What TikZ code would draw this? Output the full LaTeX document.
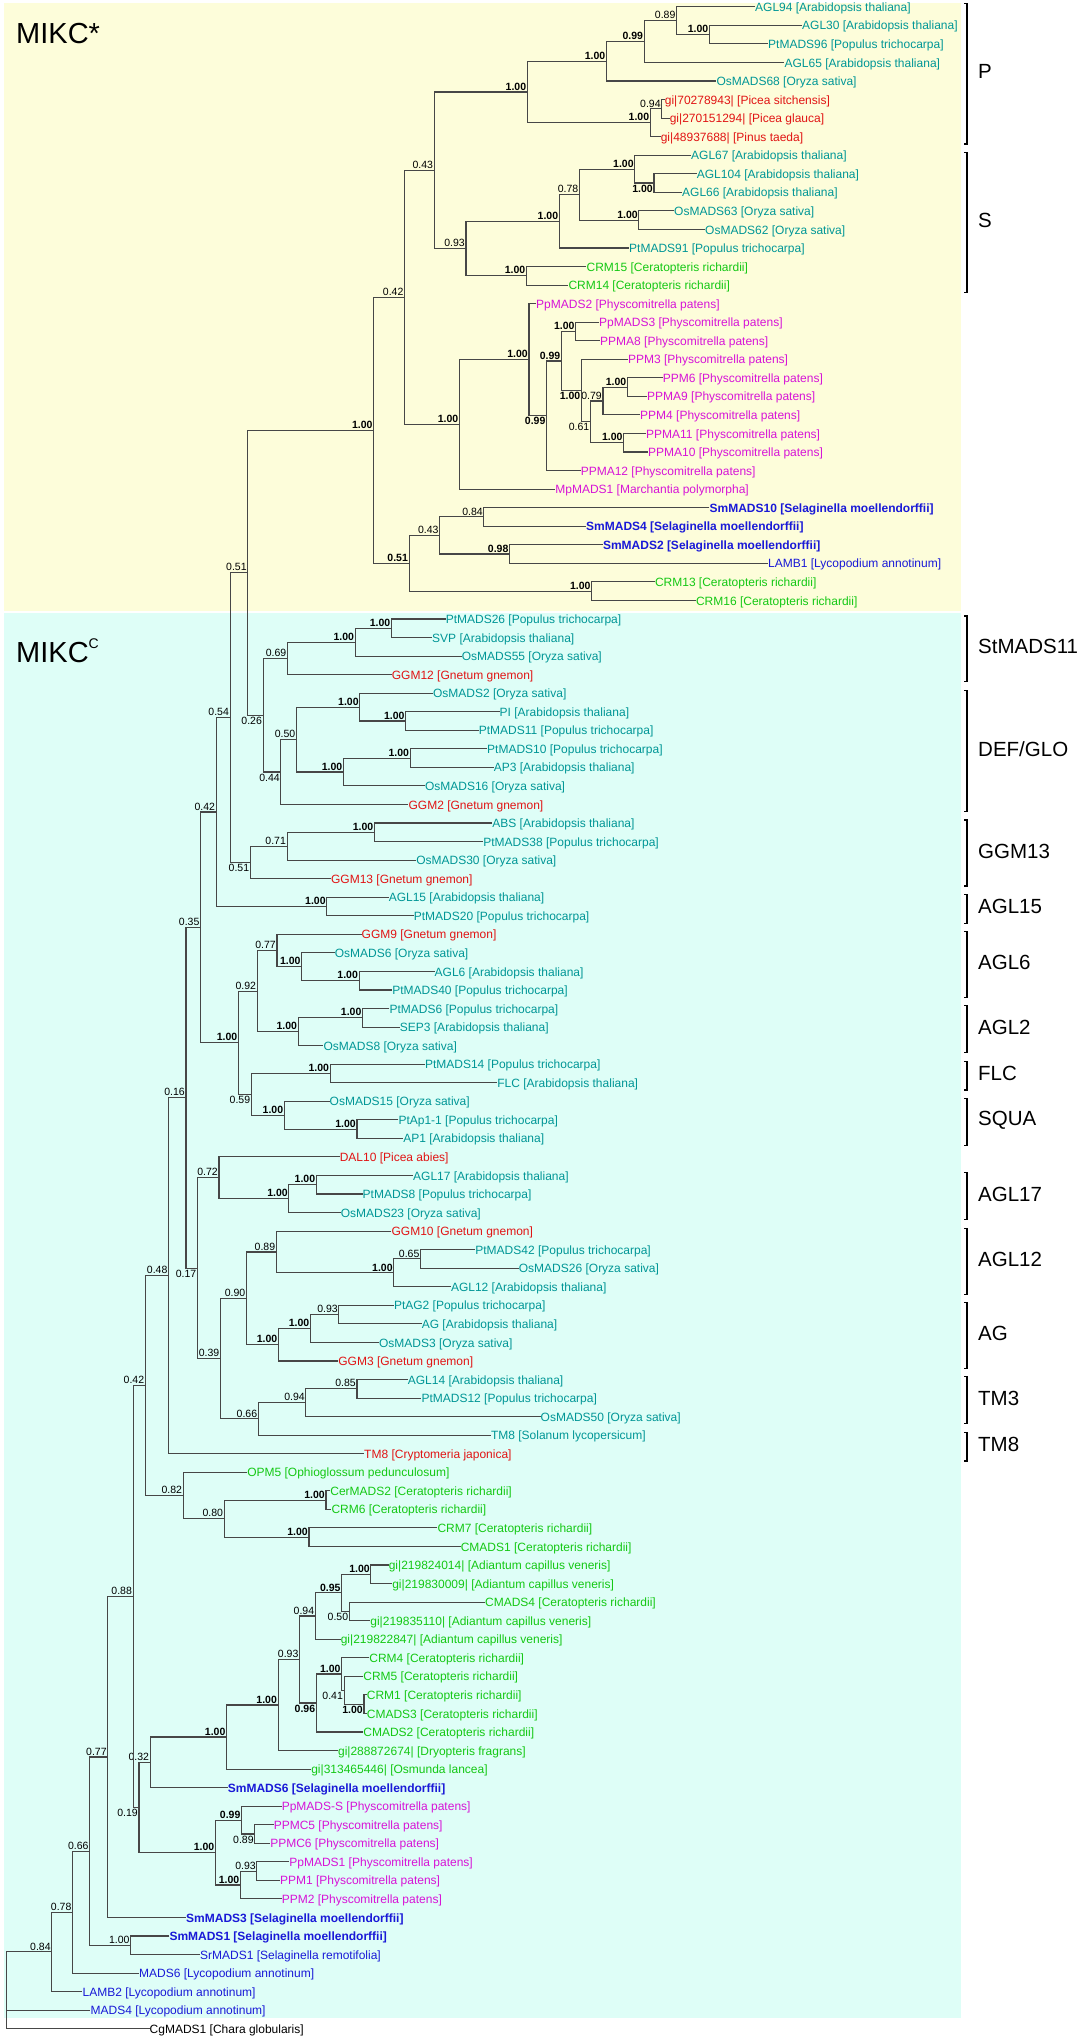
\documentclass[tikz,border=0pt]{standalone}
\usepackage{fontspec}
\setmainfont{Liberation Sans}
\usetikzlibrary{calc}
\definecolor{tealc}{RGB}{0,150,150}
\definecolor{redc}{RGB}{225,20,20}
\definecolor{greenc}{RGB}{20,200,20}
\definecolor{magc}{RGB}{215,20,215}
\definecolor{bluec}{RGB}{25,25,215}
\definecolor{yel}{RGB}{253,253,218}
\definecolor{cya}{RGB}{222,254,247}
\tikzset{
 br/.style={draw=black!72, line width=1.1pt},
 bk/.style={draw=black, line width=1.1pt},
 lt/.style={inner sep=0pt, anchor=west, font=\fontsize{12}{12}\selectfont},
 ang/.style={text=tealc}, gym/.style={text=redc}, fern/.style={text=greenc},
 moss/.style={text=magc}, lyc/.style={text=bluec},
 lycb/.style={text=bluec, font=\fontsize{12}{12}\selectfont\bfseries},
 alga/.style={text=black},
 ua/.style={inner sep=0pt, anchor=south east, xshift=-1pt, yshift=1.5pt, font=\fontsize{10.5}{10.5}\selectfont},
 ub/.style={ua, font=\fontsize{10.5}{10.5}\selectfont\bfseries},
 da/.style={inner sep=0pt, anchor=north east, xshift=-1pt, yshift=-1.5pt, font=\fontsize{10.5}{10.5}\selectfont},
 db/.style={da, font=\fontsize{10.5}{10.5}\selectfont\bfseries},
 cl/.style={inner sep=0pt, anchor=west, font=\fontsize{20.5}{20.5}\selectfont},
 big/.style={inner sep=0pt, anchor=base west, font=\fontsize{29}{29}\selectfont}
}
\newcommand\lf[5]{%
 \coordinate (#1) at (#2,{6.8+18.55*#3});
 \node[lt,#4] (#1t) at ([yshift=-1.5pt]#1) {#5};}
\newcommand\nd[6]{%
 \coordinate (#1m) at ($(#3)!0.5!(#4)$);
 \coordinate (#1x) at (#2,0);
 \coordinate (#1) at (#1x |- #1m);
 \draw[br] (#3) -| (#1) |- (#4);
 \node[#5] (#1s) at (#1) {#6};}
\newcommand\brk[4]{%
 \coordinate (#1a) at (967,{6.8+18.55*#2-3});
 \coordinate (#1b) at (967,{6.8+18.55*#3+7.3});
 \draw[bk] ([xshift=-3pt]#1a) -- (#1a) -- (#1b) -- ([xshift=-3pt]#1b);
 \node[cl] (#1) at ($(#1a)!0.5!(#1b)+(11,-2)$) {#4};}
\begin{document}
\begin{tikzpicture}[x=1pt,y=-1pt]
\useasboundingbox (0,0) rectangle (1083,2040);
\fill[white] (0,0) rectangle (1083,2040);
\fill[yel] (3.5,3.3) rectangle (960.7,610.7);
\fill[cya] (3.5,613.3) rectangle (960.7,2017.7);
\node[big] (mikcs) at (16,43.3) {MIKC*};
\node[big] (mikcc) at (16,662) {MIKC\raisebox{14pt}{\fontsize{14}{14}\selectfont C}};
% leaves
\lf{l0}{755}{0}{ang}{AGL94 [Arabidopsis thaliana]}
\lf{l1}{802}{1}{ang}{AGL30 [Arabidopsis thaliana]}
\lf{l2}{768}{2}{ang}{PtMADS96 [Populus trichocarpa]}
\lf{l3}{784.4}{3}{ang}{AGL65 [Arabidopsis thaliana]}
\lf{l4}{716.3}{4}{ang}{OsMADS68 [Oryza sativa]}
\lf{l5}{664.7}{5}{gym}{gi|70278943| [Picea sitchensis]}
\lf{l6}{669.6}{6}{gym}{gi|270151294| [Picea glauca]}
\lf{l7}{660.6}{7}{gym}{gi|48937688| [Pinus taeda]}
\lf{l8}{691}{8}{ang}{AGL67 [Arabidopsis thaliana]}
\lf{l9}{696.7}{9}{ang}{AGL104 [Arabidopsis thaliana]}
\lf{l10}{682}{10}{ang}{AGL66 [Arabidopsis thaliana]}
\lf{l11}{674}{11}{ang}{OsMADS63 [Oryza sativa]}
\lf{l12}{705}{12}{ang}{OsMADS62 [Oryza sativa]}
\lf{l13}{629}{13}{ang}{PtMADS91 [Populus trichocarpa]}
\lf{l14}{586.4}{14}{fern}{CRM15 [Ceratopteris richardii]}
\lf{l15}{568.3}{15}{fern}{CRM14 [Ceratopteris richardii]}
\lf{l16}{536}{16}{moss}{PpMADS2 [Physcomitrella patens]}
\lf{l17}{599}{17}{moss}{PpMADS3 [Physcomitrella patens]}
\lf{l18}{600}{18}{moss}{PPMA8 [Physcomitrella patens]}
\lf{l19}{627.8}{19}{moss}{PPM3 [Physcomitrella patens]}
\lf{l20}{662.6}{20}{moss}{PPM6 [Physcomitrella patens]}
\lf{l21}{647}{21}{moss}{PPMA9 [Physcomitrella patens]}
\lf{l22}{640}{22}{moss}{PPM4 [Physcomitrella patens]}
\lf{l23}{646}{23}{moss}{PPMA11 [Physcomitrella patens]}
\lf{l24}{648}{24}{moss}{PPMA10 [Physcomitrella patens]}
\lf{l25}{580.6}{25}{moss}{PPMA12 [Physcomitrella patens]}
\lf{l26}{555.2}{26}{moss}{MpMADS1 [Marchantia polymorpha]}
\lf{l27}{709.4}{27}{lycb}{SmMADS10 [Selaginella moellendorffii]}
\lf{l28}{586}{28}{lycb}{SmMADS4 [Selaginella moellendorffii]}
\lf{l29}{602.8}{29}{lycb}{SmMADS2 [Selaginella moellendorffii]}
\lf{l30}{768}{30}{lyc}{LAMB1 [Lycopodium annotinum]}
\lf{l31}{654.8}{31}{fern}{CRM13 [Ceratopteris richardii]}
\lf{l32}{695.8}{32}{fern}{CRM16 [Ceratopteris richardii]}
\lf{l33}{445.6}{33}{ang}{PtMADS26 [Populus trichocarpa]}
\lf{l34}{432}{34}{ang}{SVP [Arabidopsis thaliana]}
\lf{l35}{461.6}{35}{ang}{OsMADS55 [Oryza sativa]}
\lf{l36}{391.7}{36}{gym}{GGM12 [Gnetum gnemon]}
\lf{l37}{432.8}{37}{ang}{OsMADS2 [Oryza sativa]}
\lf{l38}{499.5}{38}{ang}{PI [Arabidopsis thaliana]}
\lf{l39}{478.7}{39}{ang}{PtMADS11 [Populus trichocarpa]}
\lf{l40}{487}{40}{ang}{PtMADS10 [Populus trichocarpa]}
\lf{l41}{493.6}{41}{ang}{AP3 [Arabidopsis thaliana]}
\lf{l42}{424.8}{42}{ang}{OsMADS16 [Oryza sativa]}
\lf{l43}{408.4}{43}{gym}{GGM2 [Gnetum gnemon]}
\lf{l44}{492.2}{44}{ang}{ABS [Arabidopsis thaliana]}
\lf{l45}{483.2}{45}{ang}{PtMADS38 [Populus trichocarpa]}
\lf{l46}{416.1}{46}{ang}{OsMADS30 [Oryza sativa]}
\lf{l47}{330.9}{47}{gym}{GGM13 [Gnetum gnemon]}
\lf{l48}{388.6}{48}{ang}{AGL15 [Arabidopsis thaliana]}
\lf{l49}{413.7}{49}{ang}{PtMADS20 [Populus trichocarpa]}
\lf{l50}{361.5}{50}{gym}{GGM9 [Gnetum gnemon]}
\lf{l51}{334.7}{51}{ang}{OsMADS6 [Oryza sativa]}
\lf{l52}{434.5}{52}{ang}{AGL6 [Arabidopsis thaliana]}
\lf{l53}{392.1}{53}{ang}{PtMADS40 [Populus trichocarpa]}
\lf{l54}{389.3}{54}{ang}{PtMADS6 [Populus trichocarpa]}
\lf{l55}{399.7}{55}{ang}{SEP3 [Arabidopsis thaliana]}
\lf{l56}{323.3}{56}{ang}{OsMADS8 [Oryza sativa]}
\lf{l57}{424.8}{57}{ang}{PtMADS14 [Populus trichocarpa]}
\lf{l58}{497.1}{58}{ang}{FLC [Arabidopsis thaliana]}
\lf{l59}{329.5}{59}{ang}{OsMADS15 [Oryza sativa]}
\lf{l60}{398.3}{60}{ang}{PtAp1-1 [Populus trichocarpa]}
\lf{l61}{403.2}{61}{ang}{AP1 [Arabidopsis thaliana]}
\lf{l62}{339.6}{62}{gym}{DAL10 [Picea abies]}
\lf{l63}{413}{63}{ang}{AGL17 [Arabidopsis thaliana]}
\lf{l64}{362.5}{64}{ang}{PtMADS8 [Populus trichocarpa]}
\lf{l65}{340.6}{65}{ang}{OsMADS23 [Oryza sativa]}
\lf{l66}{391.4}{66}{gym}{GGM10 [Gnetum gnemon]}
\lf{l67}{475.2}{67}{ang}{PtMADS42 [Populus trichocarpa]}
\lf{l68}{518.7}{68}{ang}{OsMADS26 [Oryza sativa]}
\lf{l69}{450.8}{69}{ang}{AGL12 [Arabidopsis thaliana]}
\lf{l70}{393.8}{70}{ang}{PtAG2 [Populus trichocarpa]}
\lf{l71}{421.6}{71}{ang}{AG [Arabidopsis thaliana]}
\lf{l72}{378.9}{72}{ang}{OsMADS3 [Oryza sativa]}
\lf{l73}{338.2}{73}{gym}{GGM3 [Gnetum gnemon]}
\lf{l74}{407.7}{74}{ang}{AGL14 [Arabidopsis thaliana]}
\lf{l75}{421.3}{75}{ang}{PtMADS12 [Populus trichocarpa]}
\lf{l76}{540.5}{76}{ang}{OsMADS50 [Oryza sativa]}
\lf{l77}{490.8}{77}{ang}{TM8 [Solanum lycopersicum]}
\lf{l78}{364}{78}{gym}{TM8 [Cryptomeria japonica]}
\lf{l79}{247.1}{79}{fern}{OPM5 [Ophioglossum pedunculosum]}
\lf{l80}{330.2}{80}{fern}{CerMADS2 [Ceratopteris richardii]}
\lf{l81}{331.3}{81}{fern}{CRM6 [Ceratopteris richardii]}
\lf{l82}{437.3}{82}{fern}{CRM7 [Ceratopteris richardii]}
\lf{l83}{460.6}{83}{fern}{CMADS1 [Ceratopteris richardii]}
\lf{l84}{388.6}{84}{fern}{gi|219824014| [Adiantum capillus veneris]}
\lf{l85}{392.1}{85}{fern}{gi|219830009| [Adiantum capillus veneris]}
\lf{l86}{484.9}{86}{fern}{CMADS4 [Ceratopteris richardii]}
\lf{l87}{370.2}{87}{fern}{gi|219835110| [Adiantum capillus veneris]}
\lf{l88}{340.6}{88}{fern}{gi|219822847| [Adiantum capillus veneris]}
\lf{l89}{369.2}{89}{fern}{CRM4 [Ceratopteris richardii]}
\lf{l90}{363.2}{90}{fern}{CRM5 [Ceratopteris richardii]}
\lf{l91}{366.7}{91}{fern}{CRM1 [Ceratopteris richardii]}
\lf{l92}{366.7}{92}{fern}{CMADS3 [Ceratopteris richardii]}
\lf{l93}{363.2}{93}{fern}{CMADS2 [Ceratopteris richardii]}
\lf{l94}{337.9}{94}{fern}{gi|288872674| [Dryopteris fragrans]}
\lf{l95}{311.1}{95}{fern}{gi|313465446| [Osmunda lancea]}
\lf{l96}{227.7}{96}{lycb}{SmMADS6 [Selaginella moellendorffii]}
\lf{l97}{281.6}{97}{moss}{PpMADS-S [Physcomitrella patens]}
\lf{l98}{273.6}{98}{moss}{PPMC5 [Physcomitrella patens]}
\lf{l99}{270.1}{99}{moss}{PPMC6 [Physcomitrella patens]}
\lf{l100}{289.2}{100}{moss}{PpMADS1 [Physcomitrella patens]}
\lf{l101}{279.8}{101}{moss}{PPM1 [Physcomitrella patens]}
\lf{l102}{281.6}{102}{moss}{PPM2 [Physcomitrella patens]}
\lf{l103}{186}{103}{lycb}{SmMADS3 [Selaginella moellendorffii]}
\lf{l104}{169.3}{104}{lycb}{SmMADS1 [Selaginella moellendorffii]}
\lf{l105}{199.9}{105}{lyc}{SrMADS1 [Selaginella remotifolia]}
\lf{l106}{139}{106}{lyc}{MADS6 [Lycopodium annotinum]}
\lf{l107}{82.4}{107}{lyc}{LAMB2 [Lycopodium annotinum]}
\lf{l108}{90.4}{108}{lyc}{MADS4 [Lycopodium annotinum]}
\lf{l109}{149.5}{109}{alga}{CgMADS1 [Chara globularis]}
% MIKC* : P and S
\nd{na100}{709.4}{l1}{l2}{ub}{1.00}
\nd{n089}{676.6}{l0}{na100}{ua}{0.89}
\nd{n099}{644.2}{n089}{l3}{ub}{0.99}
\nd{nb100}{606.5}{n099}{l4}{ub}{1.00}
\nd{n094}{661.8}{l5}{l6}{ua}{0.94}
\nd{ng100}{650.3}{n094}{l7}{ub}{1.00}
\nd{nP}{527.3}{nb100}{ng100}{ub}{1.00}
\nd{nc100}{654}{l9}{l10}{db}{1.00}
\nd{nd100}{634.8}{l8}{nc100}{ub}{1.00}
\nd{ne100}{638.9}{l11}{l12}{ub}{1.00}
\nd{n078}{579.4}{nd100}{ne100}{ua}{0.78}
\nd{nf100}{559.3}{n078}{l13}{ub}{1.00}
\nd{nh100}{526.5}{l14}{l15}{ub}{1.00}
\nd{n093}{466}{nf100}{nh100}{ua}{0.93}
\nd{n043}{434.2}{nP}{n093}{ua}{0.43}
% mosses
\nd{nD}{575.7}{l17}{l18}{ub}{1.00}
\nd{nG}{627.4}{l20}{l21}{ub}{1.00}
\nd{nH}{603}{nG}{l22}{ua}{0.79}
\nd{nI}{623.7}{l23}{l24}{ub}{1.00}
\nd{nF}{590.5}{nH}{nI}{da}{0.61}
\nd{nE}{581.5}{l19}{nF}{db}{1.00}
\nd{nC}{561.4}{nD}{nE}{ub}{0.99}
\nd{nB}{546.6}{nC}{l25}{db}{0.99}
\nd{nA}{529}{l16}{nB}{ub}{1.00}
\nd{nM}{459.5}{nA}{l26}{ub}{1.00}
\nd{n042}{404.6}{n043}{nM}{ua}{0.42}
\nd{n084}{483.9}{l27}{l28}{ua}{0.84}
\nd{n098}{509.6}{l29}{l30}{ub}{0.98}
\nd{n043b}{439.7}{n084}{n098}{ua}{0.43}
\nd{ni100}{591.7}{l31}{l32}{ub}{1.00}
\nd{n051}{409.1}{n043b}{ni100}{ub}{0.51}
\nd{nStar}{373.7}{n042}{n051}{ub}{1.00}
% MIKCc
\nd{nj100}{391.4}{l33}{l34}{ub}{1.00}
\nd{nk100}{355.2}{nj100}{l35}{ub}{1.00}
\nd{n069}{287.5}{nk100}{l36}{ua}{0.69}
\nd{nn100}{405.7}{l38}{l39}{ub}{1.00}
\nd{nl100}{359.8}{l37}{nn100}{ub}{1.00}
\nd{no100}{410.2}{l40}{l41}{ub}{1.00}
\nd{nm100}{343.4}{no100}{l42}{ub}{1.00}
\nd{n050}{296.5}{nl100}{nm100}{ua}{0.50}
\nd{n044}{280.9}{n050}{l43}{da}{0.44}
\nd{n026}{263.1}{n069}{n044}{da}{0.26}
\nd{nN051}{247.8}{nStar}{n026}{ua}{0.51}
\nd{np100}{374.4}{l44}{l45}{ub}{1.00}
\nd{n071}{287.1}{np100}{l46}{ua}{0.71}
\nd{n051b}{250.3}{n071}{l47}{da}{0.51}
\nd{n054}{230.1}{nN051}{n051b}{ua}{0.54}
\nd{nq100}{326.8}{l48}{l49}{ub}{1.00}
\nd{n042b}{216.2}{n054}{nq100}{ua}{0.42}
\nd{nu100}{359.1}{l52}{l53}{ub}{1.00}
\nd{nt100}{301.7}{l51}{nu100}{ub}{1.00}
\nd{n077}{277}{l50}{nt100}{ua}{0.77}
\nd{nv100}{362.6}{l54}{l55}{ub}{1.00}
\nd{ns100}{298.2}{nv100}{l56}{ub}{1.00}
\nd{n092}{257.2}{n077}{ns100}{ua}{0.92}
\nd{nw100}{330.2}{l57}{l58}{ub}{1.00}
\nd{ny100}{357}{l60}{l61}{ub}{1.00}
\nd{nx100}{284.3}{l59}{ny100}{ub}{1.00}
\nd{n059}{251.3}{nw100}{nx100}{da}{0.59}
\nd{nr100}{238.5}{n092}{n059}{ub}{1.00}
\nd{n035}{200.6}{n042b}{nr100}{ua}{0.35}
\nd{naa100}{316.3}{l63}{l64}{ub}{1.00}
\nd{nz100}{288.9}{naa100}{l65}{ub}{1.00}
\nd{n072}{219}{l62}{nz100}{ua}{0.72}
\nd{n065}{420.6}{l67}{l68}{ua}{0.65}
\nd{ncc100}{393.8}{n065}{l69}{ub}{1.00}
\nd{n089c}{276.3}{l66}{ncc100}{ua}{0.89}
\nd{n093b}{338.9}{l70}{l71}{ua}{0.93}
\nd{ndd100}{310.4}{n093b}{l72}{ub}{1.00}
\nd{nbb100}{278.4}{ndd100}{l73}{ub}{1.00}
\nd{n090}{246.4}{n089c}{nbb100}{ua}{0.90}
\nd{n085}{357}{l74}{l75}{ua}{0.85}
\nd{n094c}{305.9}{n085}{l76}{ua}{0.94}
\nd{n066}{258.3}{n094c}{l77}{ua}{0.66}
\nd{n039}{220.4}{n090}{n066}{ua}{0.39}
\nd{n017}{197.4}{n072}{n039}{da}{0.17}
\nd{n016}{186}{n035}{n017}{ua}{0.16}
\nd{n048}{168.6}{n016}{l78}{ua}{0.48}
\nd{nee100}{326}{l80}{l81}{ub}{1.00}
\nd{nff100}{309}{l82}{l83}{ub}{1.00}
\nd{n080}{224.2}{nee100}{nff100}{ua}{0.80}
\nd{n082}{183.2}{l79}{n080}{ua}{0.82}
\nd{n042c}{145.3}{n048}{n082}{ua}{0.42}
\nd{njj100}{370.9}{l84}{l85}{ub}{1.00}
\nd{n050b}{349.3}{l86}{l87}{da}{0.50}
\nd{n095}{341.7}{njj100}{n050b}{ub}{0.95}
\nd{n094d}{315.3}{n095}{l88}{ua}{0.94}
\nd{nll100}{364}{l91}{l92}{db}{1.00}
\nd{n041}{344.1}{l90}{nll100}{da}{0.41}
\nd{nkk100}{341.7}{l89}{n041}{ub}{1.00}
\nd{n096}{316.3}{nkk100}{l93}{db}{0.96}
\nd{n093d}{299.6}{n094d}{n096}{ua}{0.93}
\nd{nii100}{278.1}{n093d}{l94}{ub}{1.00}
\nd{ngg100}{226.6}{nii100}{l95}{ub}{1.00}
\nd{n032}{150.2}{ngg100}{l96}{ua}{0.32}
\nd{n089b}{254.8}{l98}{l99}{da}{0.89}
\nd{n099b}{241.6}{l97}{n089b}{ub}{0.99}
\nd{n093e}{256.9}{l100}{l101}{ua}{0.93}
\nd{nmm100}{240.5}{n093e}{l102}{ub}{1.00}
\nd{nhh100}{215.5}{n099b}{nmm100}{ub}{1.00}
\nd{n019}{139}{n032}{nhh100}{da}{0.19}
\nd{n088}{133.1}{n042c}{n019}{ua}{0.88}
\nd{n077b}{107.8}{n088}{l103}{ua}{0.77}
\nd{nnn100}{130.7}{l104}{l105}{ua}{1.00}
\nd{n066b}{89.7}{n077b}{nnn100}{ua}{0.66}
\nd{n078b}{72.6}{n066b}{l106}{ua}{0.78}
\nd{n084b}{51.8}{n078b}{l107}{ua}{0.84}
\coordinate (rootm) at ($(n084b)!0.5!(l109)$);
\coordinate (rootx) at (6.3,0);
\coordinate (root) at (rootx |- rootm);
\draw[br] (n084b) -| (root) |- (l109);
\draw[br] (root) |- (l108);
% clade brackets
\brk{bP}{0}{7}{P}
\brk{bS}{8}{15}{S}
\brk{bSt}{33}{36}{StMADS11}
\brk{bDG}{37}{43}{DEF/GLO}
\brk{bG13}{44}{47}{GGM13}
\brk{bA15}{48}{49}{AGL15}
\brk{bA6}{50}{53}{AGL6}
\brk{bA2}{54}{56}{AGL2}
\brk{bFLC}{57}{58}{FLC}
\brk{bSQ}{59}{61}{SQUA}
\brk{bA17}{63}{65}{AGL17}
\brk{bA12}{66}{69}{AGL12}
\brk{bAG}{70}{73}{AG}
\brk{bTM3}{74}{76}{TM3}
\brk{bTM8}{77}{78}{TM8}
\end{tikzpicture}
\end{document}
